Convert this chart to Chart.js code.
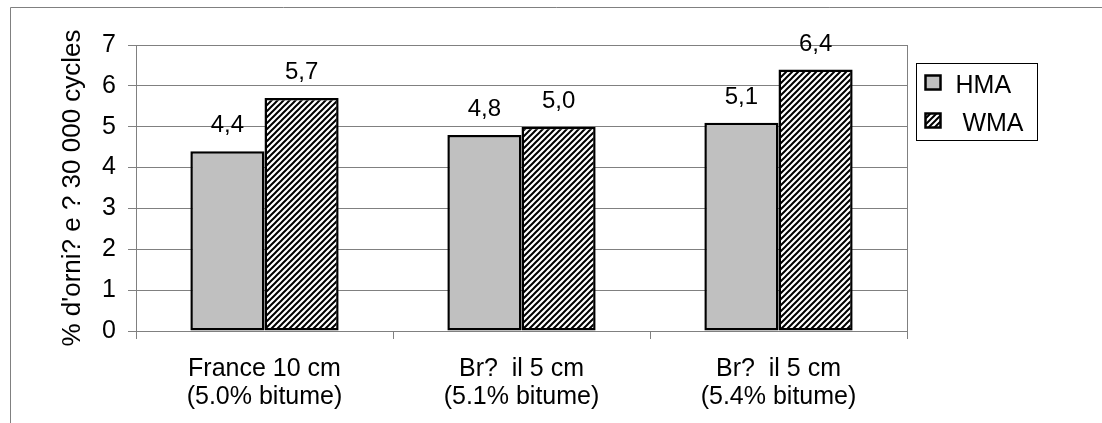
<!DOCTYPE html>
<html>
<head>
<meta charset="utf-8">
<script src="https://cdn.jsdelivr.net/npm/chart.js@4"></script>
<style>
  body { margin: 0; background: #fff; }
  canvas { display: block; }
</style>
</head>
<body>
<canvas id="barChart" width="1102" height="423"></canvas>
<script>
// data
const categorias = [
    ["France 10 cm", "(5.0% bitume)"],
    ["Br?  il 5 cm", "(5.1% bitume)"],
    ["Br?  il 5 cm", "(5.4% bitume)"]
];
const hma = [4.4, 4.8, 5.1];
const wma = [5.7, 5.0, 6.4];
const yTicks = [0, 1, 2, 3, 4, 5, 6, 7];
const yTitulo = "% d'orni? e ? 30 000 cycles";

const FUENTE = "Arial, 'Liberation Sans', sans-serif";
const GRIS = '#808080';

// hatch pattern for WMA
function hacerRayado(){
    const c = document.createElement('canvas');
    c.width = 6; c.height = 6;
    const g = c.getContext('2d');
    g.fillStyle = '#fff';
    g.fillRect(0, 0, 6, 6);
    g.strokeStyle = '#000';
    g.lineWidth = 2;
    g.beginPath();
    g.moveTo(-1, 7); g.lineTo(7, -1);
    g.moveTo(-1, 1); g.lineTo(1, -1);
    g.moveTo(5, 7); g.lineTo(7, 5);
    g.stroke();
    return g.createPattern(c, 'repeat');
}
const rayado = hacerRayado();

const marco = {
    id: 'marco',
    beforeDraw(chart){
        const ctx = chart.ctx;
        ctx.save();
        ctx.fillStyle = '#fff';
        ctx.fillRect(0, 0, chart.width, chart.height);
        ctx.strokeStyle = GRIS;
        ctx.lineWidth = 1;
        ctx.beginPath();
        ctx.moveTo(10.5, chart.height);
        ctx.lineTo(10.5, 7.5);
        ctx.lineTo(chart.width, 7.5);
        ctx.stroke();
        ctx.restore();
    },
    afterDraw(chart){
        const ctx = chart.ctx;
        const a = chart.chartArea;
        ctx.save();
        // right edge of plot area
        ctx.strokeStyle = GRIS;
        ctx.lineWidth = 1;
        ctx.beginPath();
        ctx.moveTo(Math.round(a.right) + 0.5, a.top);
        ctx.lineTo(Math.round(a.right) + 0.5, a.bottom);
        ctx.stroke();

        // legend
        const lx = Math.round(a.right) + 9.5, ly = 63.5;
        ctx.lineWidth = 1;
        ctx.strokeStyle = '#000';
        ctx.strokeRect(lx, ly, 121, 77);
        ctx.font = '25px ' + FUENTE;
        ctx.textBaseline = 'alphabetic';
        ctx.textAlign = 'left';
        chart.data.datasets.forEach((ds, i) => {
            const y = ly + 12 + i * 38;
            ctx.fillStyle = ds.backgroundColor;
            ctx.fillRect(lx + 9, y, 15, 14);
            ctx.lineWidth = 2.5;
            ctx.strokeStyle = '#000';
            ctx.strokeRect(lx + 9, y, 15, 14);
            ctx.fillStyle = '#000';
            ctx.fillText(ds.label, lx + 39, y + 17);
        });
        ctx.restore();
    },
    afterDatasetsDraw(chart){
        const ctx = chart.ctx;
        ctx.save();
        ctx.font = '24px ' + FUENTE;
        ctx.fillStyle = '#000';
        ctx.textAlign = 'center';
        ctx.textBaseline = 'alphabetic';
        chart.data.datasets.forEach((ds, i) => {
            chart.getDatasetMeta(i).data.forEach((bar, j) => {
                ctx.fillText(ds.data[j].toFixed(1).replace('.', ','), bar.x, bar.y - 19);
            });
        });
        ctx.restore();
    }
};

const CHART = document.getElementById('barChart');
new Chart(CHART, {
    type: 'bar',
    data: {
        labels: categorias,
        datasets: [
            {
                label: 'HMA',
                data: hma,
                backgroundColor: '#c0c0c0',
                borderColor: '#000',
                borderWidth: 2.5,
                borderSkipped: false
            },
            {
                label: ' WMA',
                data: wma,
                backgroundColor: rayado,
                borderColor: '#000',
                borderWidth: 2.5,
                borderSkipped: false
            }
        ]
    },
    options: {
        responsive: false,
        animation: false,
        devicePixelRatio: 1,
        categoryPercentage: 0.577,
        barPercentage: 1,
        layout: { padding: { left: 10, right: 195, top: 45, bottom: 0 } },
        plugins: {
            legend: { display: false },
            tooltip: { enabled: false }
        },
        scales: {
            x: {
                afterFit(s){ s.height = 92; },
                grid: {
                    offset: true,
                    drawOnChartArea: false,
                    drawTicks: true,
                    tickLength: 8,
                    color: GRIS
                },
                border: { color: GRIS },
                ticks: {
                    color: '#000',
                    padding: 16,
                    maxRotation: 0,
                    font: { family: FUENTE, size: 25, lineHeight: 1.13 }
                }
            },
            y: {
                min: 0,
                max: 7,
                afterFit(s){ s.width = 126; },
                afterBuildTicks(s){ s.ticks = yTicks.map(v => ({ value: v })); },
                grid: { color: GRIS, tickLength: 8 },
                border: { color: GRIS },
                ticks: {
                    color: '#000',
                    padding: 12,
                    font: { family: FUENTE, size: 25 }
                },
                title: {
                    display: true,
                    text: yTitulo,
                    color: '#000',
                    padding: { top: 47, bottom: 0 },
                    font: { family: FUENTE, size: 26 }
                }
            }
        }
    },
    plugins: [marco]
});
</script>
</body>
</html>
